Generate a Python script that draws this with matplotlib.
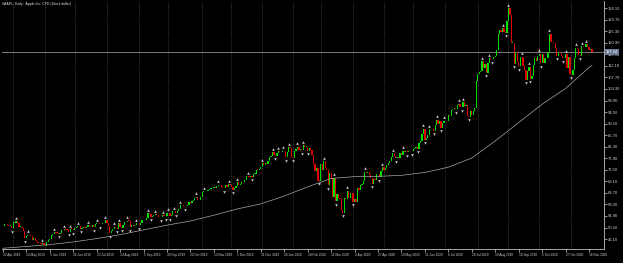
import numpy as np
import matplotlib.pyplot as plt

# daily closes, one list per month (Apr 2019 .. Nov 2020)
closes_2019 = [
    [51.13, 51.87, 51.79, 51.32, 51.08, 51.15, 50.17],
    [52.63, 52.29, 52.94, 52.12, 50.72, 50.72, 50.18, 49.30, 46.43, 47.17, 47.73,
     47.52, 47.25, 45.77, 46.65, 45.70, 44.92, 44.74, 44.56, 44.35, 44.58, 43.77],
    [43.33, 44.91, 45.64, 46.31, 47.54, 48.15, 48.70, 48.55, 48.54, 48.19, 48.47,
     49.61, 49.47, 49.87, 49.70, 49.65, 48.89, 49.95, 49.94, 49.48],
    [50.39, 50.68, 51.10, 51.06, 50.01, 50.31, 50.81, 50.44, 50.83, 51.30, 51.13,
     50.84, 51.42, 50.65, 51.81, 52.21, 52.17, 51.76, 51.94, 52.42, 52.20, 53.26],
    [52.11, 51.01, 48.34, 49.25, 49.76, 50.86, 50.25, 50.12, 52.24, 50.69, 50.44,
     51.63, 52.59, 52.59, 53.16, 53.12, 50.66, 51.62, 51.04, 51.38, 52.25, 52.19],
    [51.42, 52.30, 53.32, 53.32, 53.54, 54.17, 55.90, 55.77, 54.69, 54.97, 55.17,
     55.69, 55.24, 54.43, 54.68, 54.42, 55.26, 54.97, 54.71, 55.99],
    [56.15, 54.74, 55.21, 56.75, 56.77, 56.10, 56.76, 57.52, 59.05, 58.97, 58.83,
     58.59, 58.82, 59.10, 60.13, 59.99, 60.80, 60.90, 61.65, 62.26, 60.82, 60.82, 62.19],
    [63.96, 64.38, 64.28, 64.31, 64.86, 65.04, 65.55, 65.49, 66.12, 65.66, 66.44,
     66.78, 66.57, 65.80, 65.50, 65.45, 66.59, 66.07, 66.96, 66.81],
    [66.04, 64.86, 65.44, 66.39, 67.68, 66.73, 67.12, 67.69, 67.86, 68.79, 69.96,
     70.10, 69.93, 70.00, 69.86, 71.00, 71.07, 72.48, 72.45, 72.88, 73.41],
]
closes_2020 = [
    [75.09, 74.36, 74.95, 74.60, 75.80, 77.41, 77.58, 79.24, 78.17, 77.83, 78.81,
     79.68, 79.14, 79.43, 79.81, 79.58, 77.24, 79.42, 81.08, 80.97, 77.38],
    [77.17, 79.71, 80.36, 81.30, 80.01, 80.39, 79.90, 81.80, 81.22, 81.24, 79.75,
     80.90, 80.08, 78.26, 74.54, 72.02, 73.16, 68.38, 68.34],
    [74.70, 72.33, 75.68, 73.23, 72.26, 66.54, 71.33, 68.86, 62.06, 69.49, 60.55,
     63.22, 61.67, 61.20, 57.31, 56.09, 61.72, 61.38, 64.61, 61.94, 63.70, 63.57],
    [60.23, 61.23, 60.35, 65.62, 64.86, 66.52, 67.00, 68.31, 71.76, 71.11, 71.67,
     70.70, 69.23, 67.09, 69.03, 68.76, 70.74, 70.79, 69.65, 71.93, 73.45],
    [72.27, 73.29, 74.39, 75.16, 75.94, 77.53, 78.75, 77.85, 76.91, 77.39, 76.93,
     78.74, 78.29, 79.81, 79.21, 79.72, 79.18, 79.53, 79.56, 79.49],
    [80.46, 80.83, 81.28, 80.58, 82.88, 83.36, 86.00, 88.21, 83.97, 84.70, 85.75,
     88.02, 87.90, 87.93, 87.43, 89.72, 91.63, 90.01, 91.21, 88.41, 90.44, 91.20],
    [91.03, 91.03, 93.46, 93.17, 95.34, 95.75, 95.92, 95.48, 97.06, 97.73, 96.52,
     96.33, 98.36, 97.00, 97.27, 92.85, 92.62, 94.81, 93.25, 95.04, 96.19, 106.26],
    [108.94, 109.67, 110.06, 113.90, 111.11, 112.73, 109.38, 113.01, 115.01, 114.91, 114.61,
     115.56, 115.71, 118.28, 124.37, 125.86, 124.83, 126.52, 125.01, 124.81, 129.04],
    [134.18, 131.40, 120.88, 120.96, 112.82, 117.32, 113.49, 112.00, 115.36, 115.54, 112.13,
     110.34, 106.84, 110.08, 111.81, 107.12, 108.22, 112.28, 114.96, 114.09, 115.81],
    [116.79, 113.02, 116.50, 113.16, 115.08, 114.97, 116.97, 124.40, 121.10, 121.19, 120.71,
     119.02, 115.98, 117.51, 116.87, 115.75, 115.04, 115.05, 116.60, 111.20, 115.32, 108.86],
    [108.77, 110.44, 114.95, 119.03, 118.69, 116.32, 115.97, 119.49, 119.21, 119.26, 120.30,
     119.39, 118.03, 118.64, 117.34],
]
close_before = 50.97

# moving average (bar index -> value)
ma_bars = [0, 16, 32, 48, 64, 80, 96, 112, 128, 144, 160, 176, 192, 208, 224,
           240, 256, 272, 288, 304, 320, 336, 352, 368, 384, 400, 402]
ma_vals = [42.6, 43.3, 44.0, 45.0, 46.3, 47.8, 49.6, 51.4, 53.0, 55.2, 57.6, 59.5,
           62.5, 66.0, 69.2, 69.9, 70.0, 70.4, 71.5, 73.5, 77.0, 83.5, 90.5, 97.5,
           103.5, 111.5, 112.3]

date_labels = ["22 Apr 2019", "14 May 2019", "5 Jun 2019", "26 Jun 2019", "23 Jul 2019",
               "14 Aug 2019", "5 Sep 2019", "30 Sep 2019", "22 Oct 2019", "13 Nov 2019",
               "5 Dec 2019", "31 Dec 2019", "24 Jan 2020", "18 Feb 2020", "11 Mar 2020",
               "2 Apr 2020", "27 Apr 2020", "19 May 2020", "11 Jun 2020", "6 Jul 2020",
               "28 Jul 2020", "19 Aug 2020", "10 Sep 2020", "5 Oct 2020", "27 Oct 2020",
               "16 Nov 2020"]
price_ticks = [46.10, 50.50, 54.90, 59.30, 63.70, 68.10, 72.50, 76.90, 81.30, 85.70, 90.10,
               94.50, 98.90, 103.30, 107.70, 112.10, 116.50, 120.90, 125.30, 129.70, 134.10]

months = closes_2019 + closes_2020
closes = np.array(sum(months, []))
n = len(closes)
opens = np.concatenate([[close_before], closes[:-1]])
highs = np.maximum(opens, closes)
lows = np.minimum(opens, closes)
idx = np.arange(n)
month_starts = np.cumsum([len(m) for m in months])[:-1]

plt.rcParams['font.family'] = ['Liberation Sans', 'DejaVu Sans']
fig = plt.figure(figsize=(6.23, 2.63), dpi=100, facecolor='black')
ax = fig.add_axes([0.003, 0.053, 0.966, 0.943], facecolor='black')

# month grid
for m in month_starts:
    ax.axvline(m, color='#6a6a6a', lw=0.5, ls=(0, (1, 2)), zorder=0)

# candles
body = np.maximum(np.abs(closes - opens), 0.2)
bull = closes >= opens
ax.bar(idx[bull], body[bull], bottom=lows[bull], width=0.85, color='#00e000', lw=0, zorder=2)
ax.bar(idx[~bull], body[~bull], bottom=lows[~bull], width=0.85, color='#e00000', lw=0, zorder=2)

# moving average
ax.plot(ma_bars, ma_vals, color='#a8a8a8', lw=0.5, zorder=3)

# fractals (5-bar turning points of the closes)
up = [i for i in range(2, n - 2)
      if closes[i] > closes[i - 2:i].max() and closes[i] > closes[i + 1:i + 3].max()]
dn = [i for i in range(2, n - 2)
      if closes[i] < closes[i - 2:i].min() and closes[i] < closes[i + 1:i + 3].min()]
ax.plot(up, highs[up] + 1.3, ls='none', marker='^', ms=1.9, color='#c8c8c8', mew=0, zorder=4)
ax.plot(dn, lows[dn] - 1.3, ls='none', marker='v', ms=1.9, color='#c8c8c8', mew=0, zorder=4)

# last price line
last = closes[-1]
ax.axhline(last, color='#8c8c8c', lw=0.6, zorder=1)
ax.text(1.004, last, f"{last:.2f}", transform=ax.get_yaxis_transform(), fontsize=3.0,
        color='white', va='center', ha='left', zorder=6,
        bbox=dict(boxstyle='square,pad=0.15', fc='#6b7a94', ec='none'), clip_on=False)

ax.set_xlim(-0.7, 410)
ax.set_ylim(42.3, 136.8)

ax.yaxis.tick_right()
ax.set_yticks(price_ticks)
ax.set_yticklabels([f"{p:.2f}" for p in price_ticks])
ax.set_xticks(np.arange(len(date_labels)) * 16)
ax.set_xticklabels(date_labels, ha='left')
ax.tick_params(axis='y', colors='#d0d0d0', labelsize=3.0, length=2, width=0.5, pad=1)
ax.tick_params(axis='x', colors='#d0d0d0', labelsize=2.3, length=2, width=0.5, pad=1)
for s in ['top', 'left']:
    ax.spines[s].set_visible(False)
for s in ['right', 'bottom']:
    ax.spines[s].set_color('#c0c0c0')
    ax.spines[s].set_linewidth(0.6)

fig.text(0.004, 0.992, "#AAPL, Daily:  Apple Inc. CFD (Stock dollar)", color='#e0e0e0',
         fontsize=2.5, va='top', ha='left')

fig.savefig('out.png', dpi=100, facecolor='black')
